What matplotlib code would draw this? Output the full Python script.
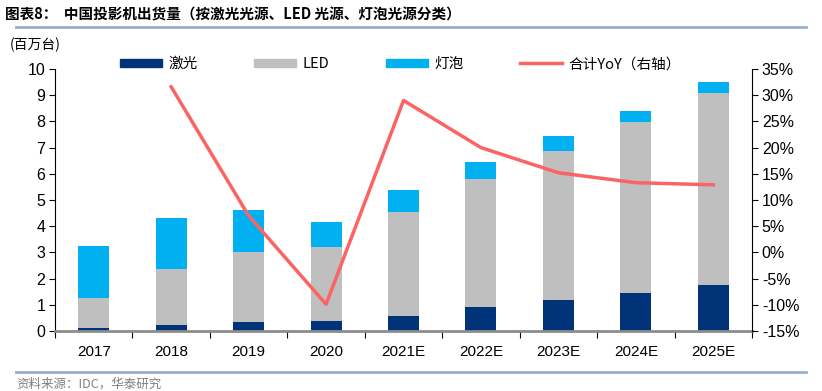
import numpy as np
import matplotlib
matplotlib.use('Agg')
from matplotlib import pyplot as plt
from matplotlib.patches import Patch
from matplotlib.lines import Line2D

plt.rcParams['font.family'] = ['Liberation Sans', 'Noto Sans CJK SC', 'DejaVu Sans']
cjk = ['Noto Sans CJK SC', 'DejaVu Sans']

# data (百万台)
years  = ['2017', '2018', '2019', '2020', '2021E', '2022E', '2023E', '2024E', '2025E']
laser  = [0.10, 0.23, 0.36, 0.38, 0.59, 0.90, 1.20, 1.45, 1.74]
led    = [1.17, 2.15, 2.67, 2.81, 3.96, 4.90, 5.68, 6.51, 7.33]
bulb   = [1.99, 1.92, 1.59, 0.97, 0.82, 0.65, 0.56, 0.45, 0.42]
yoy    = [np.nan, 31.6, 7.0, -9.9, 29.0, 20.0, 15.2, 13.3, 12.9]   # %

c_laser = '#003378'
c_led   = '#BFBFBF'
c_bulb  = '#00B0F0'
c_line  = '#FA6464'

fig = plt.figure(figsize=(8.22, 3.91), dpi=100)
ax = fig.add_axes([0.0669, 0.1535, 0.848, 0.670])

x = np.arange(len(years))
w = 0.4
laser = np.array(laser); led = np.array(led); bulb = np.array(bulb)
ax.bar(x, laser, w, color=c_laser, zorder=2)
ax.bar(x, led, w, bottom=laser, color=c_led, zorder=2)
ax.bar(x, bulb, w, bottom=laser + led, color=c_bulb, zorder=2)

ax.set_xlim(-0.5, len(years) - 0.5)
ax.set_ylim(0, 10)
ax.set_yticks(range(0, 11))
ax.set_xticks(x)
ax.set_xticklabels(years)
ax.set_xticks(np.arange(-0.5, len(years), 1), minor=True)
ax.tick_params(axis='x', which='major', length=0, pad=10, labelsize=11)
ax.tick_params(axis='x', which='minor', length=5, width=0.8, direction='out')
ax.tick_params(axis='y', length=4, width=0.8, labelsize=11.5, pad=3)
for s in ['top', 'right']:
    ax.spines[s].set_visible(False)
ax.spines['bottom'].set_color('#8C8C8C')
ax.spines['bottom'].set_linewidth(2)
ax.spines['left'].set_linewidth(0.8)

ax2 = ax.twinx()
ax2.plot(x, yoy, color=c_line, lw=2.5, zorder=3)
ax2.set_ylim(-15, 35)
ax2.set_yticks(range(-15, 36, 5))
ax2.set_yticklabels([f'{v}%' for v in range(-15, 36, 5)])
ax2.tick_params(axis='y', length=4, width=0.8, labelsize=11.5, pad=3)
for s in ['top', 'left', 'bottom']:
    ax2.spines[s].set_visible(False)
ax2.spines['right'].set_linewidth(0.8)

handles = [Patch(color=c_laser), Patch(color=c_led), Patch(color=c_bulb),
           Line2D([], [], color=c_line, lw=2.5)]
labels = ['激光', 'LED', '灯泡', '合计YoY（右轴）']
leg = fig.legend(handles, labels, ncol=4, loc='center left',
                 bbox_to_anchor=(0.1295, 0.836), frameon=False,
                 handlelength=2.9, handleheight=0.55, handletextpad=0.45,
                 columnspacing=3.85, prop={'family': cjk, 'size': 10.5})

fig.text(0.006, 0.962, '图表8：  中国投影机出货量（按激光光源、LED 光源、灯泡光源分类）',
         family=cjk, fontsize=10.5, fontweight='bold', va='center')
fig.add_artist(Line2D([0.02, 0.98], [0.932, 0.932], color='#9BB0C8', lw=2))
fig.text(0.012, 0.885, '(百万台)', family=cjk, fontsize=10, va='center')
fig.add_artist(Line2D([0.02, 0.98], [0.048, 0.048], color='#9BB0C8', lw=2))
fig.text(0.02, 0.018, '资料来源：IDC，华泰研究', family=cjk, fontsize=9,
         color='#808080', va='center')

plt.savefig('out.png', dpi=100)
